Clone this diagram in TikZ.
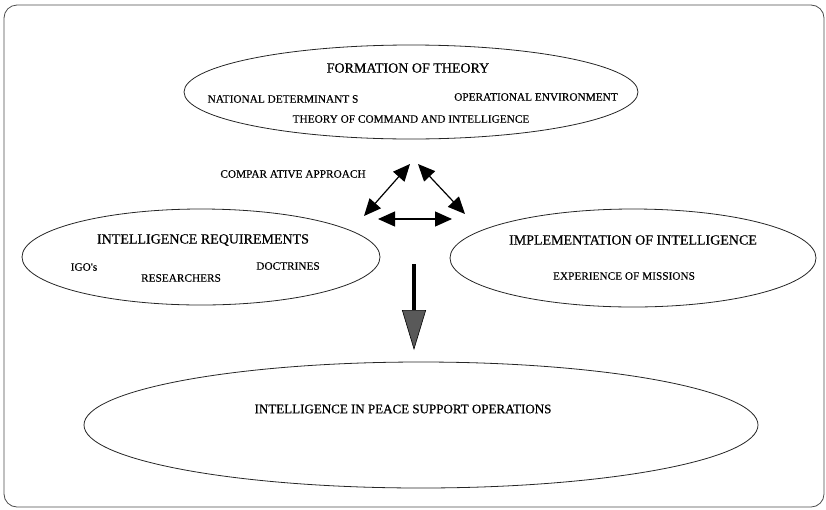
\documentclass[tikz,border=0pt]{standalone}
\usepackage{fontspec}
\setmainfont{Liberation Serif}
\newfontfamily\headfont[FakeBold=0.6]{Liberation Serif}
\newfontfamily\itemfont[FakeBold=0.3]{Liberation Serif}
\usetikzlibrary{arrows.meta,shapes.geometric}
\begin{document}
\begin{tikzpicture}[x=1pt,y=-1pt,
  head/.style={font=\headfont\fontsize{14}{15}\selectfont},
  item/.style={font=\itemfont\fontsize{11.3}{12}\selectfont},
  link/.style={line width=1.2pt,{Triangle[length=17pt,width=15pt]}-{Triangle[length=17pt,width=15pt]}},
  flow/.style={line width=3.5pt,-{Triangle[length=40pt,width=24pt,line width=0.6pt,fill=gray!70!black]}}]
\useasboundingbox (0,0) rectangle (826,509);
\draw[black!70,line width=0.8pt,rounded corners=13pt] (4,5) rectangle (824,507);

% ellipses
\draw[black!85,line width=0.8pt] (411,92) ellipse [x radius=227,y radius=47];
\draw[black!85,line width=0.8pt] (201,257) ellipse [x radius=179,y radius=48];
\draw[black!85,line width=0.8pt] (633,258) ellipse [x radius=183,y radius=49];
\draw[black!85,line width=0.8pt] (421,425) ellipse [x radius=337,y radius=63];

% texts
\node[head] (fot) at (408,68) {FORMATION OF THEORY};
\node[item] (nd) at (283,99) {NATIONAL DETERMINANT S};
\node[item] (oe) at (536,97) {OPERATIONAL ENVIRONMENT};
\node[item] (tci) at (411,119) {THEORY OF COMMAND AND INTELLIGENCE};
\node[item] (ca) at (293,174) {COMPAR ATIVE APPROACH};
\node[head] (ir) at (203,240) {INTELLIGENCE REQUIREMENTS};
\node[item] (igo) at (84,267) {IGO's};
\node[item] (res) at (181,278) {RESEARCHERS};
\node[item] (doc) at (288,266) {DOCTRINES};
\node[head] (ioi) at (633,240) {IMPLEMENTATION OF INTELLIGENCE};
\node[item] (eom) at (624,276) {EXPERIENCE OF MISSIONS};
\node[head,font=\headfont\fontsize{13}{14}\selectfont] (ipso) at (403,409) {INTELLIGENCE IN PEACE SUPPORT OPERATIONS};

% triangle of links
\coordinate (a1) at (364,216);
\coordinate (a2) at (410,164);
\coordinate (b1) at (418,164);
\coordinate (b2) at (465,214);
\coordinate (c1) at (378,219);
\coordinate (c2) at (452,219);
\draw[link] (a1) -- (a2);
\draw[link] (b1) -- (b2);
\draw[link] (c1) -- (c2);

% downward flow
\coordinate (d1) at (414,264);
\coordinate (d2) at (414,350);
\draw[flow] (d1) -- (d2);
\end{tikzpicture}
\end{document}
